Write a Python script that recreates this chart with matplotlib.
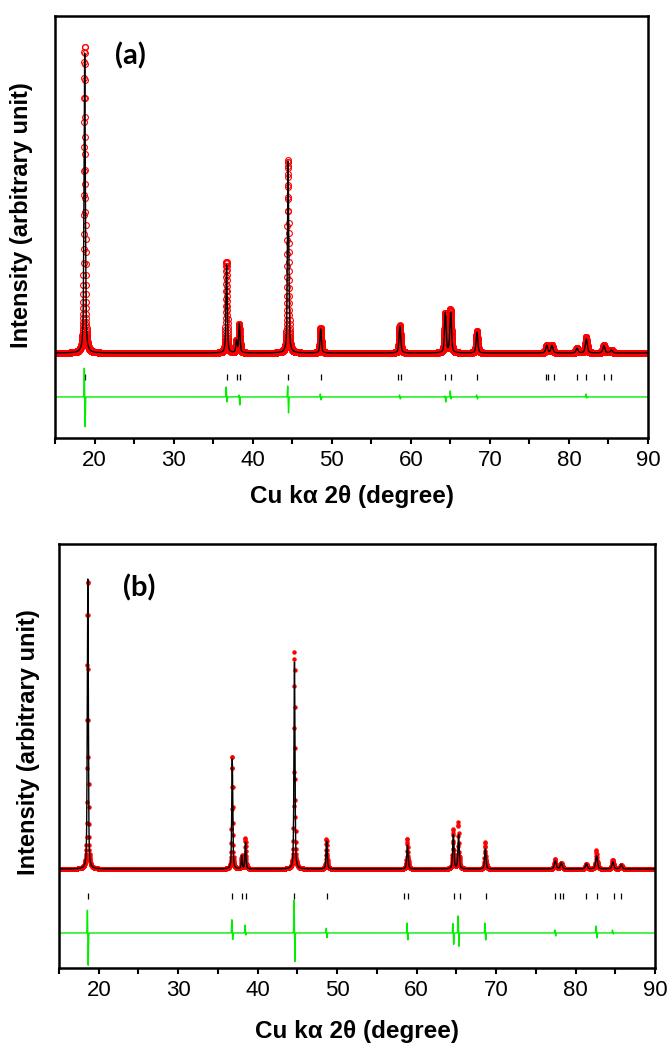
import numpy as np
import matplotlib.pyplot as plt

# ---- panel (a): peaks (deg, calc height, FWHM deg)
pos_a = [18.75, 36.70, 37.95, 38.32, 44.48, 48.60, 58.62, 64.37, 65.04,
         68.37, 77.20, 77.85, 81.02, 82.20, 84.42, 85.37]
hgt_a = [3000, 880, 120, 290, 1920, 240, 270, 400, 400,
         210, 75, 75, 45, 140, 75, 30]
fwhm_a = [0.20, 0.20, 0.20, 0.20, 0.20, 0.22, 0.25, 0.25, 0.25,
          0.25, 0.30, 0.30, 0.30, 0.30, 0.30, 0.30]
# Bragg reflection markers (a)
bragg_a = [18.82, 36.70, 38.00, 38.34, 44.50, 48.60, 58.37, 58.80, 64.37,
           65.04, 68.37, 77.06, 77.35, 78.07, 81.02, 82.20, 84.40, 85.37]
# difference curve features (a): centre, upward and downward excursion
dpos_a = [18.75, 36.70, 38.32, 44.48, 48.60, 58.62, 64.37, 65.04, 68.37, 82.20]
dup_a = [290, 100, 20, 110, 30, 20, 10, 60, 20, 30]
ddn_a = [300, 50, 80, 160, 30, 20, 50, 20, 20, 10]

# ---- panel (b)
pos_b = [18.62, 36.80, 38.00, 38.47, 44.63, 48.68, 58.85, 64.62, 65.28,
         68.65, 77.45, 78.20, 81.36, 82.65, 84.70, 85.75]
hgt_b = [2900, 1100, 130, 270, 2100, 280, 240, 340, 340,
         200, 80, 60, 50, 130, 70, 40]
fwhm_b = [0.15, 0.15, 0.15, 0.15, 0.15, 0.18, 0.20, 0.20, 0.20,
          0.20, 0.28, 0.28, 0.28, 0.28, 0.28, 0.28]
bragg_b = [18.60, 36.80, 38.00, 38.47, 44.63, 48.68, 58.46, 58.93, 64.70,
           65.42, 68.74, 77.47, 78.10, 78.40, 81.36, 82.75, 84.80, 85.70]
dpos_b = [18.62, 36.80, 38.47, 44.63, 48.68, 58.85, 64.62, 65.28, 68.65,
          77.45, 82.65, 84.70]
dup_b = [240, 140, 80, 330, 50, 100, 100, 180, 100, 30, 70, 30]
ddn_b = [340, 70, 20, 290, 50, 70, 120, 140, 70, 30, 50, 10]

# vertical layout of the stacked curves (same units as intensities)
ylim_a = (-850, 3370)
bragg_y_a, diff_y_a = -240, -440
ylim_b = (-990, 3250)
bragg_y_b, diff_y_b = -270, -640


def profile(x, centres, heights, widths, eta=0.5):
    y = np.zeros_like(x)
    for c, h, w in zip(centres, heights, widths):
        u = (x - c) / (w / 2)
        y += h * (eta / (1 + u ** 2) + (1 - eta) * np.exp(-np.log(2) * u ** 2))
    return y


def difference(x, centres, ups, downs, shift=0.05, sigma=0.045):
    y = np.zeros_like(x)
    for c, a, b in zip(centres, ups, downs):
        y += a * np.exp(-((x - c + shift) / sigma) ** 2)
        y -= b * np.exp(-((x - c - shift) / sigma) ** 2)
    return y


def panel(ax, step, pos, hgt, fwhm, bragg, dpos, dup, ddn, ylim, bragg_y, diff_y,
          label, label_xy, open_marker, xpad):
    x = np.arange(15, 90.0001, step)
    calc = profile(x, pos, hgt, fwhm)
    diff = difference(x, dpos, dup, ddn)
    obs = calc + diff
    if open_marker:
        ax.plot(x, obs, 'o', mfc='none', mec='red', ms=4.2, mew=0.8)
    else:
        ax.plot(x, obs, 'o', color='red', ms=3.2, mew=0)
    ax.plot(x, calc, color='black', lw=1.0)
    ax.plot(bragg, np.full(len(bragg), bragg_y), '|', color='black', ms=5, mew=0.9)
    ax.plot(x, diff + diff_y, color='#00ee00', lw=1.0)

    ax.set_xlim(15, 90)
    ax.set_ylim(*ylim)
    ax.set_yticks([])
    ax.set_xticks(np.arange(20, 91, 10))
    ax.set_xticks(np.arange(15, 91, 5), minor=True)
    ax.tick_params(axis='x', which='both', direction='out', length=4, width=1.5,
                   pad=5, labelsize=16)
    for s in ax.spines.values():
        s.set_linewidth(1.8)
    for t in ax.get_xticklabels():
        t.set_fontfamily('Liberation Sans')
    ax.set_xlabel('Cu k\u03b1 2\u03b8 (degree)', fontsize=17.5, fontweight='bold',
                  family='Liberation Sans', labelpad=xpad)
    ax.set_ylabel('Intensity (arbitrary unit)', fontsize=17, fontweight='bold',
                  family='Liberation Sans')
    ax.text(label_xy[0], label_xy[1], label, transform=ax.transAxes, fontsize=21,
            fontweight='bold', family='Lato', ha='center', va='center')


fig = plt.figure(figsize=(6.67, 10.45), dpi=100)
ax_a = fig.add_axes([0.0825, 0.5809, 0.889, 0.4038])
ax_b = fig.add_axes([0.0885, 0.0737, 0.8935, 0.4057])

panel(ax_a, 0.01, pos_a, hgt_a, fwhm_a, bragg_a, dpos_a, dup_a, ddn_a,
      ylim_a, bragg_y_a, diff_y_a, '(a)', (0.127, 0.905), True, 10)
panel(ax_b, 0.02, pos_b, hgt_b, fwhm_b, bragg_b, dpos_b, dup_b, ddn_b,
      ylim_b, bragg_y_b, diff_y_b, '(b)', (0.134, 0.896), False, 13)

ax_a.yaxis.set_label_coords(-0.037, 0.528)
ax_b.yaxis.set_label_coords(-0.032, 0.533)

fig.savefig('out.png', dpi=100)
